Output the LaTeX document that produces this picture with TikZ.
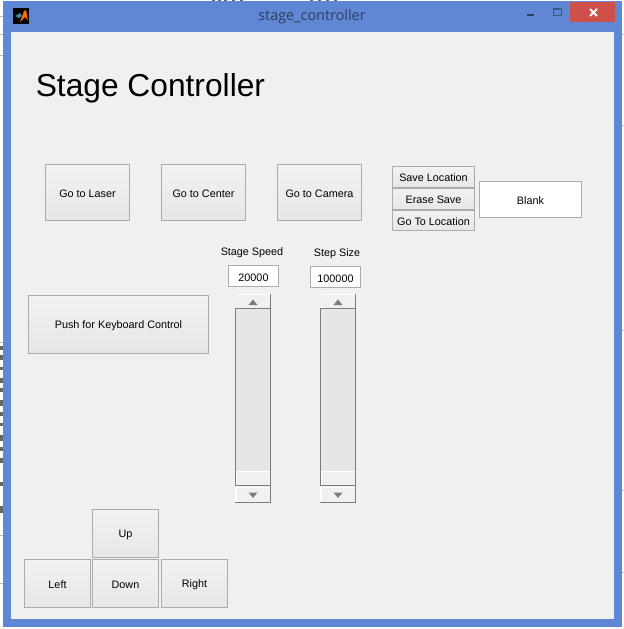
\documentclass[tikz,border=0pt]{standalone}
\usepackage{fontspec}
\setmainfont{Liberation Sans}
\newfontfamily\titlefont{Open Sans}
\definecolor{framecol}{HTML}{5F87D3}
\definecolor{paneCol}{HTML}{F0F0F0}
\definecolor{btnEdge}{HTML}{ACACAC}
\definecolor{btnTop}{HTML}{F2F2F2}
\definecolor{btnBot}{HTML}{E6E6E6}
\definecolor{troughCol}{HTML}{E6E6E6}
\definecolor{sliderDark}{HTML}{7C7C7C}
\definecolor{closeCol}{HTML}{CF4F4A}
\definecolor{titleInk}{HTML}{2F3F5F}
\tikzset{
  x=0.75pt,y=-0.75pt,
  btn/.style={draw=btnEdge,line width=0.75pt,top color=btnTop,bottom color=btnBot},
  lab/.style={font=\fontsize{8.1pt}{10pt}\selectfont,text=black,inner sep=0pt,anchor=center,yshift=-1.0pt},
  editbox/.style={draw=btnEdge,line width=0.75pt,fill=white},
  sbtn/.style={fill=paneCol},
  sedge/.style={draw=sliderDark,line width=0.8pt},
  arrowmark/.style={fill=sliderDark,draw=none},
  scrap/.style={fill=black!60,draw=none},
  faint/.style={draw=black!25,line width=0.75pt},
}
\begin{document}
\begin{tikzpicture}
\useasboundingbox (0,0) rectangle (624,629);
\fill[white] (0,0) rectangle (624,629);
% bits of the desktop behind the window
\draw[faint] (0,16)--(3,16) (0,34)--(3,34) (0,55)--(3,55) (0,342)--(3,342) (0,535)--(3,535) (0,583)--(3,583);
\draw[faint] (622,34)--(624,34) (622,125)--(624,125) (622,330)--(624,330) (622,490)--(624,490) (622,572)--(624,572);
\foreach \yy/\hh in {346/4,355/5,367/3,378/5,388/4,400/6,412/4,423/3,435/6,447/4,458/5,482/4,506/7}{
  \fill[scrap] (0,\yy) rectangle (2.6,\yy+\hh);
}
\foreach \xx in {212,218,224,232,240,310,318,326,334}{
  \fill[scrap] (\xx,0) rectangle (\xx+3,1);
}
% window
\fill[framecol] (3,1) rectangle (622,627);
\fill[paneCol] (11,32) rectangle (614,619);
\node[font=\titlefont\fontsize{10.8pt}{12pt}\selectfont,text=titleInk,inner sep=0pt] (wintitle) at (312,16.5) {stage\_controller};
% icon
\fill[black] (13,8) rectangle (29,24);
\fill[orange!85!red] (20,22)--(24,11)--(26,10)--(28,20)--(25,17)--cycle;
\fill[cyan!60!black] (15,16)--(20,13)--(22,16)--(19,18)--cycle;
% window buttons
\fill[closeCol] (570,2) rectangle (615,22);
\draw[white,line width=1.4pt] (590,9)--(597,16) (597,9)--(590,16);
\draw[titleInk,line width=1.5pt] (527,15)--(534,15);
\draw[titleInk!70!framecol,line width=0.7pt] (553,9) rectangle (561,15);
\draw[titleInk!70!framecol,line width=1.2pt] (553,9)--(561,9);
% heading
\node[font=\fontsize{23.8pt}{28pt}\selectfont,text=black,inner sep=0pt,anchor=base west] (heading) at (35.5,96) {Stage Controller};
% main buttons
\draw[btn] (45.5,164.5) rectangle node[lab] (golaser) {Go to Laser} (129.5,220.5);
\draw[btn] (161.5,164.5) rectangle node[lab] (gocenter) {Go to Center} (245.5,220.5);
\draw[btn] (277.5,164.5) rectangle node[lab] (gocamera) {Go to Camera} (361.5,220.5);
\draw[btn] (392.5,166.5) rectangle node[lab] (saveloc) {Save Location} (474.5,187);
\draw[btn] (392.5,188.5) rectangle node[lab] (erasesave) {Erase Save} (474.5,209);
\draw[btn] (392.5,210.5) rectangle node[lab] (gotoloc) {Go To Location} (474.5,230.5);
\draw[editbox] (479.5,181.5) rectangle node[lab] (blank) {Blank} (581.5,217.5);
\draw[btn] (28.5,295.5) rectangle node[lab] (keyboard) {Push for Keyboard Control} (208.5,353.5);
% speed and step
\node[lab] (speedlabel) at (252,251) {Stage Speed};
\node[lab] (steplabel) at (337,252) {Step Size};
\draw[editbox] (228.5,265.5) rectangle node[lab] (speedbox) {20000} (278.5,286.5);
\draw[editbox] (310.5,266.5) rectangle node[lab] (stepbox) {100000} (360.5,287.5);
% sliders
\foreach \sx/\sn in {235/speed,320/step}{
  \begin{scope}[shift={(\sx,0)}]
    \fill[sbtn] (0,294) rectangle (36,309);
    \fill[troughCol] (0,309) rectangle (36,471);
    \fill[sbtn] (0,471) rectangle (36,486);
    \fill[sbtn] (0,487) rectangle (36,503);
    \draw[sedge] (0,308.5)--(36,308.5) (35.5,294)--(35.5,503) (0.3,309)--(0.3,486);
    \draw[sedge] (0,485.5)--(36,485.5) (0,502.5)--(36,502.5);
    \draw[white,line width=0.9pt] (1.5,471.5)--(34.5,471.5) (1.5,471.5)--(1.5,484.5) (1,487.5)--(34.5,487.5) (1,487.5)--(1,501.5);
    \draw[white,line width=0.8pt] (0.5,294.5)--(34.5,294.5);
    \fill[arrowmark] (13.5,305)--(22.5,305)--(18,299.5)--cycle;
    \fill[arrowmark] (13.5,492.5)--(22.5,492.5)--(18,498)--cycle;
  \end{scope}
}
% arrow pad
\draw[btn] (92.5,509.5) rectangle node[lab] (padup) {Up} (158.5,557.5);
\draw[btn] (24.5,559.5) rectangle node[lab] (padleft) {Left} (90.5,607.5);
\draw[btn] (92.5,559.5) rectangle node[lab] (paddown) {Down} (158.5,607.5);
\draw[btn] (161.5,559.5) rectangle node[lab] (padright) {Right} (227.5,607.5);
\end{tikzpicture}
\end{document}
